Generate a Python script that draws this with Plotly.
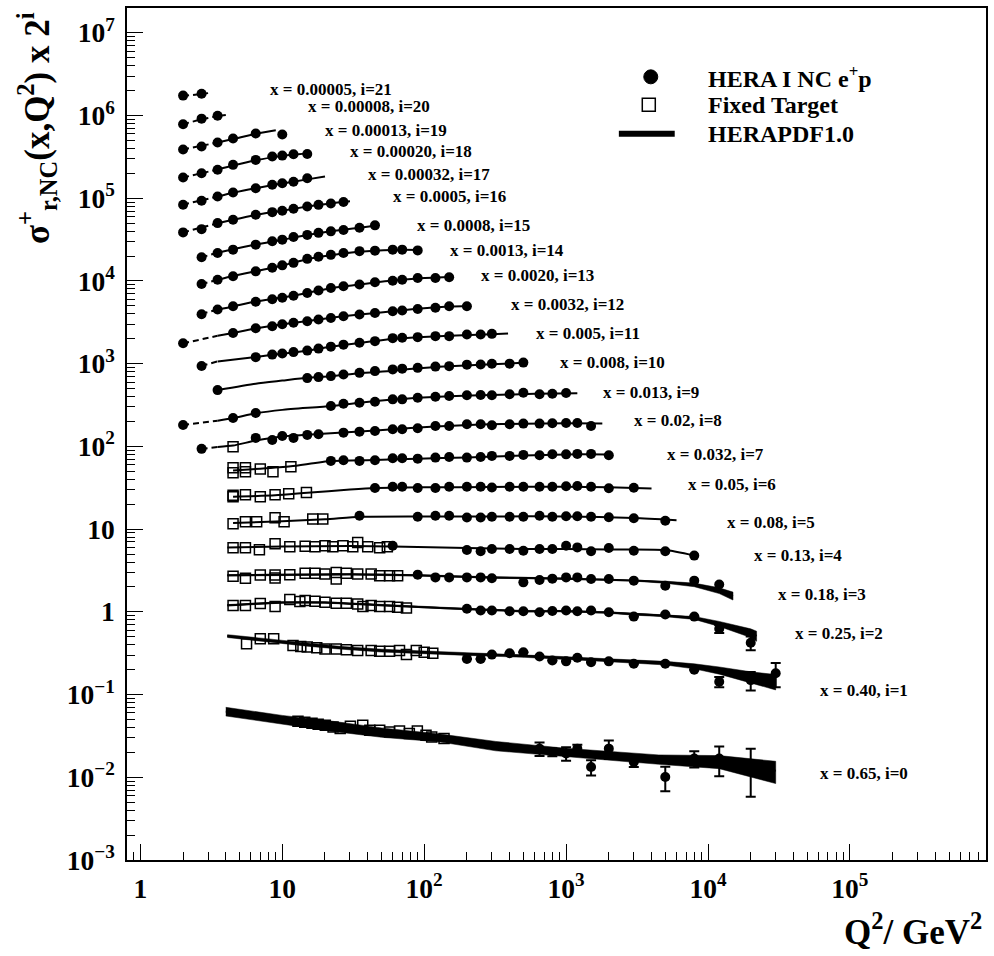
import math
import plotly.graph_objects as go

# ---------------- data ----------------
# bin index i = 0..21 ; plotted quantity = sigma_r * 2**i
BIN_LABELS = [
    "x = 0.65, i=0", "x = 0.40, i=1", "x = 0.25, i=2", "x = 0.18, i=3",
    "x = 0.13, i=4", "x = 0.08, i=5", "x = 0.05, i=6", "x = 0.032, i=7",
    "x = 0.02, i=8", "x = 0.013, i=9", "x = 0.008, i=10", "x = 0.005, i=11",
    "x = 0.0032, i=12", "x = 0.0020, i=13", "x = 0.0013, i=14", "x = 0.0008, i=15",
    "x = 0.0005, i=16", "x = 0.00032, i=17", "x = 0.00020, i=18", "x = 0.00013, i=19",
    "x = 0.00008, i=20", "x = 0.00005, i=21",
]

# HERA I NC e+p  (Q2 in GeV^2, reduced cross section sigma_r)
HERA_Q2 = [
    [650, 800, 1000, 1200, 1500, 2000, 3000, 5000, 8000, 12000, 20000],
    [200, 250, 300, 400, 500, 650, 800, 1000, 1200, 1500, 2000, 3000, 5000, 8000, 12000, 20000, 30000],
    [200, 250, 300, 400, 500, 650, 800, 1000, 1200, 1500, 2000, 3000, 5000, 8000, 12000, 20000],
    [90, 120, 150, 200, 250, 300, 500, 650, 800, 1000, 1200, 1500, 2000, 3000, 5000, 8000, 12000],
    [60, 200, 250, 300, 400, 500, 650, 800, 1000, 1200, 1500, 2000, 3000, 5000, 8000],
    [35, 90, 120, 150, 200, 250, 300, 400, 500, 650, 800, 1000, 1200, 1500, 2000, 3000, 5000],
    [45, 60, 70, 90, 120, 150, 200, 250, 300, 400, 500, 650, 800, 1000, 1200, 1500, 2000, 3000],
    [22, 27, 35, 45, 60, 70, 90, 120, 150, 200, 250, 300, 400, 500, 650, 800, 1000, 1200, 1500, 2000],
    [2.7, 6.5, 8.5, 10, 12, 15, 18, 27, 35, 45, 60, 70, 90, 120, 150, 200, 250, 300, 400, 500, 650, 800, 1000, 1200, 1500],
    [2, 4.5, 6.5, 22, 27, 35, 45, 60, 70, 90, 120, 150, 200, 250, 300, 400, 500, 650, 800, 1000],
    [3.5, 15, 18, 22, 27, 35, 45, 60, 70, 90, 120, 150, 200, 250, 300, 400, 500],
    [2.7, 6.5, 8.5, 10, 12, 15, 18, 22, 27, 35, 45, 60, 70, 90, 120, 150, 200, 250, 300],
    [2, 4.5, 6.5, 8.5, 10, 12, 15, 18, 22, 27, 35, 45, 60, 70, 90, 120, 150, 200],
    [2.7, 3.5, 4.5, 6.5, 8.5, 10, 12, 15, 18, 22, 27, 35, 45, 60, 70, 90, 120, 150],
    [2.7, 3.5, 4.5, 6.5, 8.5, 10, 12, 15, 18, 22, 27, 35, 45, 60, 70, 90],
    [2.7, 3.5, 4.5, 6.5, 8.5, 10, 12, 15, 18, 22, 27, 35, 45],
    [2, 2.7, 3.5, 4.5, 6.5, 8.5, 10, 12, 15, 18, 22, 27],
    [2, 2.7, 3.5, 4.5, 6.5, 8.5, 10, 12, 15],
    [2, 2.7, 3.5, 4.5, 6.5, 8.5, 10, 12, 15],
    [2, 2.7, 3.5, 4.5, 6.5, 10],
    [2, 2.7, 3.5],
    [2, 2.7],
]
HERA_SIG = [
    [0.0222, 0.0202, 0.0194, 0.0222, 0.0133, 0.0222, 0.0153, 0.0101, 0.0169, 0.0169, 0.0140],
    [0.135, 0.135, 0.152, 0.158, 0.162, 0.144, 0.129, 0.126, 0.139, 0.123, 0.126, 0.118, 0.118, 0.100, 0.0714, 0.0748, 0.0907],
    [0.272, 0.259, 0.259, 0.254, 0.254, 0.247, 0.256, 0.259, 0.254, 0.259, 0.247, 0.219, 0.232, 0.219, 0.156, 0.106],
    [0.352, 0.326, 0.326, 0.326, 0.326, 0.318, 0.284, 0.304, 0.315, 0.326, 0.326, 0.312, 0.312, 0.298, 0.259, 0.298, 0.267],
    [0.394, 0.350, 0.337, 0.360, 0.360, 0.343, 0.360, 0.360, 0.394, 0.376, 0.337, 0.370, 0.343, 0.337, 0.299],
    [0.453, 0.441, 0.453, 0.453, 0.432, 0.432, 0.441, 0.441, 0.441, 0.453, 0.441, 0.447, 0.447, 0.441, 0.435, 0.423, 0.394],
    [0.490, 0.508, 0.508, 0.490, 0.490, 0.508, 0.508, 0.508, 0.498, 0.508, 0.508, 0.508, 0.508, 0.515, 0.518, 0.508, 0.487, 0.494],
    [0.522, 0.532, 0.522, 0.532, 0.563, 0.563, 0.556, 0.572, 0.583, 0.572, 0.583, 0.600, 0.600, 0.617, 0.611, 0.629, 0.626, 0.634, 0.634, 0.611],
    [0.365, 0.495, 0.468, 0.523, 0.495, 0.538, 0.549, 0.573, 0.589, 0.601, 0.631, 0.631, 0.649, 0.691, 0.691, 0.724, 0.724, 0.704, 0.724, 0.737, 0.737, 0.745, 0.751, 0.751, 0.691],
    [0.354, 0.431, 0.495, 0.601, 0.641, 0.659, 0.678, 0.724, 0.724, 0.757, 0.779, 0.794, 0.810, 0.816, 0.810, 0.833, 0.870, 0.833, 0.847, 0.863],
    [0.468, 0.654, 0.672, 0.691, 0.724, 0.757, 0.794, 0.833, 0.851, 0.870, 0.900, 0.912, 0.951, 0.957, 0.973, 0.978, 1.006],
    [0.457, 0.586, 0.629, 0.647, 0.674, 0.703, 0.743, 0.785, 0.830, 0.873, 0.915, 0.994, 1.003, 1.022, 1.051, 1.051, 1.102, 1.102, 1.120],
    [0.432, 0.575, 0.655, 0.693, 0.733, 0.764, 0.796, 0.835, 0.873, 0.915, 0.959, 1.003, 1.051, 1.072, 1.120, 1.160, 1.208, 1.208],
    [0.484, 0.552, 0.605, 0.686, 0.735, 0.766, 0.810, 0.875, 0.935, 1.006, 1.054, 1.105, 1.180, 1.230, 1.260, 1.327, 1.327, 1.353],
    [0.561, 0.631, 0.695, 0.798, 0.880, 0.943, 1.011, 1.130, 1.195, 1.263, 1.327, 1.400, 1.419, 1.459, 1.459, 1.430],
    [0.590, 0.665, 0.730, 0.839, 0.920, 0.964, 1.040, 1.100, 1.165, 1.215, 1.260, 1.340, 1.435],
    [0.590, 0.646, 0.764, 0.839, 0.964, 1.037, 1.078, 1.140, 1.215, 1.270, 1.320, 1.376],
    [0.636, 0.711, 0.800, 0.895, 1.010, 1.110, 1.160, 1.210, 1.330],
    [0.680, 0.766, 0.842, 0.967, 1.110, 1.220, 1.250, 1.300, 1.310],
    [0.741, 0.805, 0.900, 1.005, 1.155, 1.124],
    [0.747, 0.875, 0.950],
    [0.830, 0.875],
]
# visible error bars (sigma_r units); None = no visible bar
HERA_ERR_0 = [0.0041, 0.0022, 0.0036, 0.0025, 0.0028, 0.0056, 0.0020, 0.0033, 0.0038, 0.0066, 0.0082]
HERA_ERR_1 = [None] * 14 + [0.010, 0.0188, 0.0293]
HERA_ERR_2 = [None] * 14 + [0.017, 0.020]

# Fixed target data (bins 0..8)
FT_Q2 = [
    [12.9, 14.4, 16.2, 17.9, 20.1, 22.8, 25.6, 30.2, 36.9, 41.4, 48.6, 57, 67, 78.6, 89.5, 103, 113, 138],
    [5.6, 7, 8.7, 11.9, 13.5, 15, 17.5, 20, 24, 28.3, 34, 42.3, 48.6, 57, 67, 75, 88, 100, 115],
    [4.5, 5.5, 7, 8.9, 11.3, 13.3, 14.5, 17, 20, 24, 28.3, 34, 37, 42.3, 48.6, 57, 65, 75],
    [4.5, 5.5, 7, 8.9, 8.9, 11.3, 14.5, 17, 20, 24, 24, 28.3, 34, 42.3, 48.6, 57, 65],
    [4.5, 5.5, 6.9, 8.9, 11.3, 14.5, 17, 20, 22.7, 26.8, 31.4, 34, 40, 48.6, 55],
    [4.5, 5.5, 6.6, 8.9, 10.3, 16.4, 19.3],
    [4.5, 4.5, 5.5, 7, 8.9, 11.1, 14.8],
    [4.5, 4.5, 5.5, 5.5, 7, 8.6, 11.5],
    [4.5],
]
FT_SIG = [
    [0.0475, 0.0462, 0.0450, 0.0437, 0.0425, 0.0405, 0.0388, 0.0413, 0.0425, 0.0370, 0.0370, 0.0353, 0.0363, 0.0338, 0.0363, 0.0322, 0.0307, 0.0294],
    [0.205, 0.236, 0.236, 0.196, 0.190, 0.188, 0.184, 0.178, 0.178, 0.174, 0.170, 0.170, 0.167, 0.167, 0.170, 0.152, 0.170, 0.162, 0.158],
    [0.298, 0.298, 0.315, 0.290, 0.352, 0.333, 0.342, 0.336, 0.326, 0.318, 0.318, 0.312, 0.290, 0.298, 0.290, 0.290, 0.284, 0.279],
    [0.336, 0.318, 0.349, 0.349, 0.321, 0.350, 0.365, 0.365, 0.359, 0.375, 0.312, 0.365, 0.359, 0.359, 0.342, 0.342, 0.342],
    [0.373, 0.373, 0.353, 0.416, 0.383, 0.388, 0.383, 0.394, 0.383, 0.394, 0.383, 0.432, 0.383, 0.373, 0.383],
    [0.363, 0.383, 0.383, 0.428, 0.383, 0.413, 0.413],
    [0.385, 0.400, 0.406, 0.385, 0.406, 0.418, 0.433],
    [0.430, 0.374, 0.430, 0.385, 0.418, 0.385, 0.442],
    [0.386],
]

# HERAPDF1.0 central curve nodes and relative band half-width
PDF_Q2 = [
    [4.0, 10, 22, 50, 130, 320, 1000, 4500, 12000, 30000],
    [4.1, 8, 15, 25, 50, 100, 200, 500, 1000, 2000, 5000, 8000, 12000, 20000, 30000],
    [4.1, 10, 20, 50, 100, 200, 500, 1000, 2000, 3000, 5000, 8000, 12000, 20000, 22000],
    [4.1, 10, 30, 90, 300, 1000, 3000, 5000, 8000, 12000, 15000],
    [4.1, 10, 30, 60, 200, 500, 1000, 2000, 5000, 8000],
    [4.5, 10, 20, 35, 90, 300, 1000, 3000, 6000],
    [4.5, 8.9, 15, 30, 45, 100, 300, 1000, 2000, 4000],
    [4.5, 7, 11.5, 22, 45, 90, 200, 500, 1000, 2000],
    [2.7, 3.5, 4.5, 6.5, 10, 18, 35, 60, 120, 250, 500, 1000, 1800],
    [2, 3.5, 4.5, 6.5, 10, 22, 35, 60, 90, 150, 300, 600, 1200],
    [3.5, 6.5, 10, 15, 22, 35, 60, 90, 150, 250, 500],
    [2.7, 3.5, 6.5, 10, 15, 22, 35, 60, 90, 150, 300, 390],
    [2, 3.5, 4.5, 6.5, 10, 15, 22, 35, 60, 90, 150, 210],
    [2.7, 3.5, 4.5, 6.5, 10, 15, 22, 35, 60, 90, 150],
    [2.7, 3.5, 4.5, 6.5, 10, 15, 22, 35, 60, 95],
    [2.7, 3.5, 4.5, 6.5, 10, 15, 22, 35, 45],
    [2, 2.7, 3.5, 4.5, 6.5, 10, 15, 22, 30],
    [2, 2.7, 3.5, 4.5, 6.5, 10, 15, 20],
    [2, 2.7, 3.5, 4.5, 6.5, 8.5, 10, 12, 15],
    [2, 2.7, 3.5, 4.5, 6.5, 9.0],
    [2, 2.7, 3.5, 4.0],
    [2, 2.7, 3.0],
]
PDF_SIG = [
    [0.0626, 0.050, 0.042, 0.035, 0.030, 0.024, 0.020, 0.0165, 0.0155, 0.0120],
    [0.255, 0.225, 0.200, 0.185, 0.170, 0.162, 0.155, 0.147, 0.138, 0.130, 0.120, 0.110, 0.098, 0.082, 0.072],
    [0.300, 0.325, 0.325, 0.300, 0.285, 0.270, 0.255, 0.255, 0.245, 0.235, 0.225, 0.211, 0.179, 0.139, 0.128],
    [0.345, 0.350, 0.355, 0.345, 0.325, 0.315, 0.300, 0.285, 0.265, 0.226, 0.195],
    [0.375, 0.385, 0.390, 0.385, 0.370, 0.360, 0.360, 0.355, 0.350, 0.300],
    [0.370, 0.390, 0.410, 0.440, 0.445, 0.445, 0.445, 0.425, 0.400],
    [0.385, 0.400, 0.430, 0.470, 0.490, 0.500, 0.505, 0.510, 0.500, 0.485],
    [0.400, 0.420, 0.450, 0.520, 0.535, 0.555, 0.575, 0.605, 0.625, 0.625],
    [0.365, 0.385, 0.400, 0.460, 0.515, 0.550, 0.590, 0.630, 0.680, 0.720, 0.735, 0.745, 0.740],
    [0.355, 0.400, 0.430, 0.490, 0.540, 0.600, 0.660, 0.720, 0.755, 0.790, 0.815, 0.845, 0.860],
    [0.470, 0.560, 0.610, 0.660, 0.690, 0.750, 0.800, 0.860, 0.910, 0.950, 1.000],
    [0.460, 0.520, 0.590, 0.645, 0.700, 0.780, 0.870, 0.970, 1.020, 1.060, 1.110, 1.130],
    [0.430, 0.530, 0.575, 0.650, 0.730, 0.800, 0.875, 0.960, 1.050, 1.130, 1.200, 1.220],
    [0.490, 0.550, 0.600, 0.690, 0.770, 0.875, 1.000, 1.110, 1.240, 1.310, 1.360],
    [0.560, 0.630, 0.700, 0.800, 0.940, 1.120, 1.250, 1.380, 1.450, 1.450],
    [0.590, 0.670, 0.740, 0.840, 0.960, 1.100, 1.220, 1.340, 1.420],
    [0.590, 0.670, 0.760, 0.840, 0.960, 1.080, 1.210, 1.320, 1.400],
    [0.640, 0.720, 0.800, 0.890, 1.010, 1.150, 1.290, 1.400],
    [0.680, 0.770, 0.850, 0.950, 1.100, 1.190, 1.240, 1.290, 1.330],
    [0.740, 0.820, 0.900, 0.990, 1.150, 1.270],
    [0.750, 0.860, 0.940, 0.970],
    [0.820, 0.870, 0.890],
]
PDF_UNC = [
    [0.12, 0.12, 0.14, 0.13, 0.11, 0.13, 0.12, 0.13, 0.18, 0.30],
    [0.04, 0.04, 0.04, 0.04, 0.04, 0.04, 0.04, 0.04, 0.04, 0.04, 0.05, 0.07, 0.10, 0.15, 0.21],
    [0.02, 0.02, 0.02, 0.02, 0.02, 0.02, 0.02, 0.02, 0.02, 0.03, 0.03, 0.04, 0.07, 0.12, 0.14],
    [0.02, 0.02, 0.02, 0.02, 0.02, 0.02, 0.02, 0.03, 0.05, 0.08, 0.11],
]
Q2_MIN_FIT = 3.5

# label anchor positions (pixels of the 994x956 page: left edge, middle)
LABEL_PX = [
    (820, 773), (820, 690), (795, 633), (778, 594), (753, 555), (726, 522),
    (687, 484), (666, 454), (633, 419), (602, 391), (559, 361), (535, 332),
    (510, 303), (480, 274), (449, 249), (416, 224), (392, 195), (367, 173),
    (349, 150), (323, 129), (306, 105), (268, 88),
]

# ---------------- layout helpers ----------------
W, H = 994, 956
PL, PR, PT, PB = 127, 988, 6, 860
SERIF = "Liberation Serif"


def paper(px, py):
    return (px - PL) / (PR - PL), (PB - py) / (PB - PT)


fig = go.Figure()

for i in range(len(BIN_LABELS)):
    scale = 2 ** i
    q = PDF_Q2[i]
    s = [v * scale for v in PDF_SIG[i]]
    # uncertainty band
    if i < len(PDF_UNC):
        u = PDF_UNC[i]
        up = [v * (1 + e) for v, e in zip(s, u)]
        lo = [v * (1 - e) for v, e in zip(s, u)]
        fig.add_trace(go.Scatter(
            x=q + q[::-1], y=up + lo[::-1], mode="lines", fill="toself",
            fillcolor="black", line=dict(color="black", width=0.5),
            hoverinfo="skip", showlegend=False))
    # dashed extrapolation below Q2_min, solid above
    qd = [a for a in q if a <= Q2_MIN_FIT]
    sd = [b for a, b in zip(q, s) if a <= Q2_MIN_FIT]
    qs = [a for a in q if a >= Q2_MIN_FIT]
    ss = [b for a, b in zip(q, s) if a >= Q2_MIN_FIT]
    if len(qd) >= 2:
        fig.add_trace(go.Scatter(x=qd, y=sd, mode="lines",
                                 line=dict(color="black", width=2, dash="6px,4px"),
                                 hoverinfo="skip", showlegend=False))
    if len(qs) >= 2:
        fig.add_trace(go.Scatter(x=qs, y=ss, mode="lines",
                                 line=dict(color="black", width=2, shape="spline", smoothing=0.6),
                                 hoverinfo="skip", showlegend=False))

for i in range(len(FT_Q2)):
    scale = 2 ** i
    fig.add_trace(go.Scatter(
        x=FT_Q2[i], y=[v * scale for v in FT_SIG[i]], mode="markers",
        marker=dict(symbol="square-open", size=10, color="black", line=dict(width=1.5)),
        showlegend=False))

ERRS = {0: HERA_ERR_0, 1: HERA_ERR_1, 2: HERA_ERR_2}
for i in range(len(HERA_Q2)):
    scale = 2 ** i
    err = None
    if i in ERRS:
        err = dict(type="data", array=[(e * scale if e is not None else float("nan")) for e in ERRS[i]],
                   color="black", thickness=2, width=5)
    fig.add_trace(go.Scatter(
        x=HERA_Q2[i], y=[v * scale for v in HERA_SIG[i]], mode="markers",
        marker=dict(symbol="circle", size=10, color="black"),
        error_y=err, showlegend=False))

annotations = []
for label, (px, py) in zip(BIN_LABELS, LABEL_PX):
    xp, yp = paper(px, py)
    annotations.append(dict(x=xp, y=yp, xref="paper", yref="paper", text="<b>%s</b>" % label,
                            showarrow=False, xanchor="left", yanchor="middle",
                            font=dict(family=SERIF, size=17, color="black")))

# axis titles
xp, yp = paper(37, 126)
annotations.append(dict(x=xp, y=yp, xref="paper", yref="paper", textangle=-90,
                        text="<b>σ<sup>+</sup><sub>r,NC</sub>(x,Q<sup>2</sup>) x 2<sup>i</sup></b>",
                        showarrow=False, xanchor="center", yanchor="middle",
                        font=dict(family=SERIF, size=35, color="black")))
xp, yp = paper(986, 930)
annotations.append(dict(x=xp, y=yp, xref="paper", yref="paper",
                        text="<b>Q<sup>2</sup>/ GeV<sup>2</sup></b>",
                        showarrow=False, xanchor="right", yanchor="middle",
                        font=dict(family=SERIF, size=35, color="black")))

# legend (drawn as keys + text)
LEGEND_TEXT = ["HERA I NC e<sup>+</sup>p", "Fixed Target", "HERAPDF1.0"]
LEGEND_PX_Y = [75, 103, 132]
shapes = []
cx, cy = paper(652, LEGEND_PX_Y[0])
shapes.append(dict(type="circle", xref="paper", yref="paper", xsizemode="pixel", ysizemode="pixel",
                   xanchor=cx, yanchor=cy, x0=-7, x1=7, y0=-7, y1=7,
                   fillcolor="black", line=dict(color="black", width=1)))
cx, cy = paper(650, LEGEND_PX_Y[1])
shapes.append(dict(type="rect", xref="paper", yref="paper", xsizemode="pixel", ysizemode="pixel",
                   xanchor=cx, yanchor=cy, x0=-6.5, x1=6.5, y0=-6.5, y1=6.5,
                   fillcolor="rgba(0,0,0,0)", line=dict(color="black", width=1.5)))
x0, ly = paper(620, LEGEND_PX_Y[2])
x1, _ = paper(676, LEGEND_PX_Y[2])
shapes.append(dict(type="line", xref="paper", yref="paper", x0=x0, x1=x1, y0=ly, y1=ly,
                   line=dict(color="black", width=6)))
for txt, py in zip(LEGEND_TEXT, LEGEND_PX_Y):
    xp, yp = paper(707, py)
    annotations.append(dict(x=xp, y=yp, xref="paper", yref="paper", text="<b>%s</b>" % txt,
                            showarrow=False, xanchor="left", yanchor="middle",
                            font=dict(family=SERIF, size=24, color="black")))

axis_common = dict(
    type="log", showgrid=False, zeroline=False, showline=True, linecolor="black",
    linewidth=1.5, mirror=True, ticks="inside", ticklen=16, tickwidth=1.2, tickcolor="black",
    dtick=1, exponentformat="power",
    tickfont=dict(family=SERIF, size=22, color="black", weight="bold"),
    minor=dict(ticks="inside", ticklen=8, tickwidth=1, tickcolor="black", dtick="D1", showgrid=False),
)

fig.update_layout(
    width=W, height=H,
    margin=dict(l=PL, r=W - PR, t=PT, b=H - PB),
    paper_bgcolor="white", plot_bgcolor="white",
    xaxis=dict(axis_common, range=[math.log10(0.805), math.log10(9.1e5)], ticklabelstandoff=4),
    yaxis=dict(axis_common, range=[-3, 7.3], ticklabelstandoff=6),
    annotations=annotations, shapes=shapes, showlegend=False,
)

fig.write_html("out.html")
